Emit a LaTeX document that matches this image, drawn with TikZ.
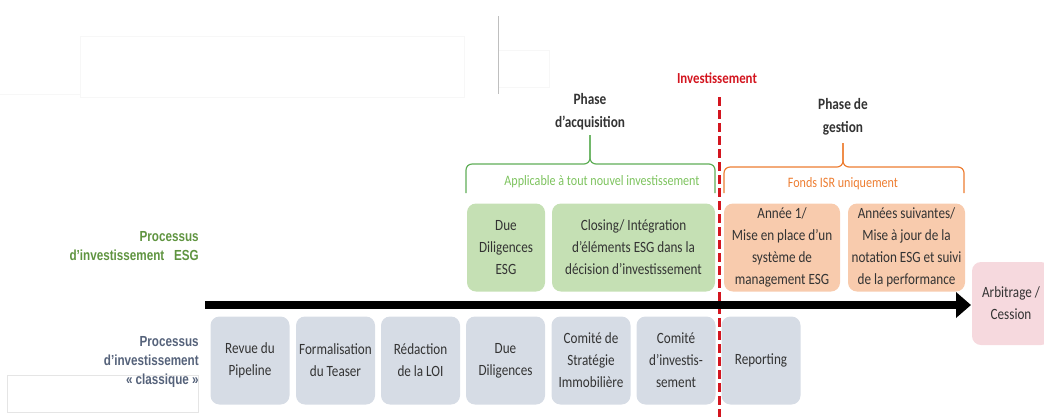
\documentclass[tikz,border=0pt]{standalone}
\usepackage{fontspec}
\setmainfont{Carlito}[FakeStretch=0.84]
\newfontfamily\labelfont{Liberation Sans}[FakeStretch=0.8]
\usetikzlibrary{arrows.meta}

\newlength\px
\setlength\px{0.2mm}

\definecolor{esggreen}{HTML}{C5E0B4}
\definecolor{isrorange}{HTML}{F8CBAD}
\definecolor{classgray}{HTML}{D6DCE5}
\definecolor{exitpink}{HTML}{F6D9DE}
\definecolor{boxtext}{HTML}{333333}
\definecolor{bracegreen}{HTML}{5FAE57}
\definecolor{textgreen}{HTML}{7DC35E}
\definecolor{labelgreen}{HTML}{5F9440}
\definecolor{labelslate}{HTML}{55627A}
\definecolor{braceorange}{HTML}{ED7D31}
\definecolor{invred}{HTML}{D3151F}

\begin{document}
\begin{tikzpicture}[x=0.2mm,y=-0.2mm,
  every node/.style={align=center,inner sep=0pt,text=boxtext},
  proc/.style={rounded corners=9\px,minimum height=88\px,
    font=\fontsize{8.9}{12.5}\selectfont},
  esgbox/.style={proc,fill=esggreen},
  isrbox/.style={proc,fill=isrorange},
  classbox/.style={proc,fill=classgray,minimum width=79\px},
  phase/.style={font=\bfseries\fontsize{9}{13}\selectfont},
  rowlabel/.style={anchor=east,align=right,
    font=\labelfont\bfseries\fontsize{8.3}{10.8}\selectfont},
  brace/.style={line width=1.2\px,rounded corners=6\px}]
\useasboundingbox (0,0) rectangle (1044,417);

% faint leftovers of the screenshot
\draw [black!3] (0,94) -- (80,94) (80,36) rectangle (464,97)
  (498,50) rectangle (549,87);
\draw [black!25] (498,16) -- (498,94);
\draw [black!10,fill=white] (7,375) rectangle (198,412);

% investment milestone
\coordinate (inv0) at (719,97);
\coordinate (inv1) at (719,417);
\draw [invred,line width=3\px,dash pattern=on 9\px off 4\px] (inv0) -- (inv1);
\node (inv) [text=invred,font=\bfseries\fontsize{8.7}{10}\selectfont] at (717,78) {Investissement};

% phases and braces
\node (acq) [phase] at (590,111.5) {Phase\\d’acquisition};
\node (ges) [phase] at (843,117) {Phase de\\gestion};
\coordinate (ga) at (466,193);
\coordinate (gt) at (590,135);
\coordinate (gb) at (715,193);
\draw [brace,bracegreen] (ga) |- (590,164) -- (gt);
\draw [brace,bracegreen] (gb) |- (590,164) -- (gt);
\coordinate (oa) at (724,193);
\coordinate (ot) at (843,143);
\coordinate (ob) at (964,193);
\draw [brace,braceorange] (oa) |- (843,167) -- (ot);
\draw [brace,braceorange] (ob) |- (843,167) -- (ot);
\node (gall) [text=textgreen,font=\fontsize{8.2}{10}\selectfont] at (602,182)
  {Applicable à tout nouvel investissement};
\node (oisr) [text=braceorange,font=\fontsize{8.2}{10}\selectfont] at (843,184)
  {Fonds ISR uniquement};

% row labels
\node (lesg) [rowlabel,text=labelgreen] at (199,246)
  {Processus\\d’investissement\ \ \ ESG};
\node (lcla) [rowlabel,text=labelslate] at (199,362)
  {Processus\\d’investissement\\« classique »};

% ESG process
\node (dde) [esgbox,minimum width=78\px] at (506,247.5) {Due\\Diligences\\ESG};
\node (clo) [esgbox,minimum width=163\px] at (633.5,247.5)
  {Closing/ Intégration\\d’éléments ESG dans la\\décision d’investissement};
\node (an1) [isrbox,minimum width=116\px] at (782,247.5)
  {Année 1/\\Mise en place d’un\\système de\\management ESG};
\node (ans) [isrbox,minimum width=117\px] at (906.5,247.5)
  {Années suivantes/\\Mise à jour de la\\notation ESG et suivi\\de la performance};

% classic process
\foreach \n/\x/\t in {rev/250/{Revue du\\Pipeline},
    frm/335.5/{Formalisation\\du Teaser},
    lo/420.5/{Rédaction\\de la LOI},
    ddl/505.5/{Due\\Diligences},
    csi/591/{Comité de\\Stratégie\\Immobilière},
    cin/676/{Comité\\d’investis-\\sement},
    rep/761/{Reporting}}
  \node (\n) [classbox] at (\x,360.5) {\t};

% exit
\node (arb) [proc,fill=exitpink,minimum width=78\px,minimum height=83\px]
  at (1011,303.5) {Arbitrage /\\Cession};

% time line
\coordinate (tl0) at (205,305);
\coordinate (tl1) at (971,305);
\draw [line width=8\px,-{Triangle[length=3mm,width=5mm]}] (tl0) -- (tl1);
\end{tikzpicture}
\end{document}
